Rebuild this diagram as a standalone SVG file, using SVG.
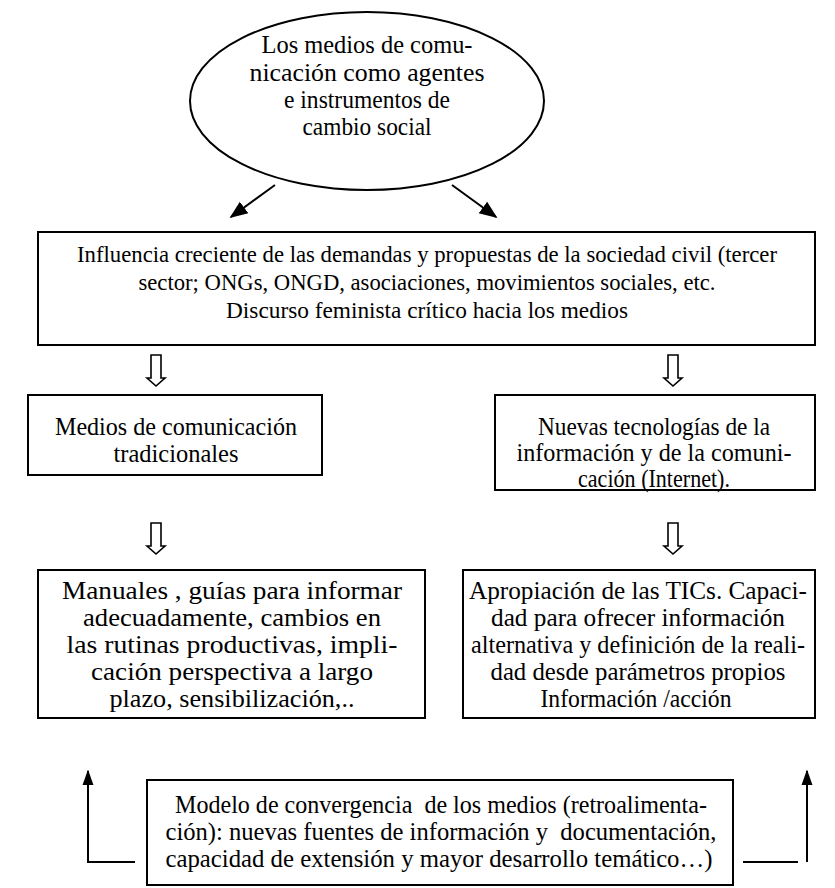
<svg xmlns="http://www.w3.org/2000/svg" width="835" height="888" viewBox="0 0 835 888">
  <style>
    .box { fill: #ffffff; stroke: #000000; stroke-width: 2; }
    .lbl { font-family: "Liberation Serif", "DejaVu Serif", serif; font-size: 25px; fill: #000000; text-anchor: middle; }
    .wide { font-size: 23px; }
    .line { fill: none; stroke: #000000; stroke-width: 2; }
    .hollow { fill: #ffffff; stroke: #000000; stroke-width: 1.6; stroke-linejoin: miter; }
  </style>
  <defs>
    <marker id="headBig" viewBox="0 0 10 10" refX="9" refY="5" markerWidth="18" markerHeight="18" orient="auto" markerUnits="userSpaceOnUse">
      <path d="M0,1 L10,5 L0,9 Z" fill="#000000"/>
    </marker>
    <marker id="headUp" viewBox="0 0 10 10" refX="9" refY="5" markerWidth="16" markerHeight="16" orient="auto" markerUnits="userSpaceOnUse">
      <path d="M0,1.5 L10,5 L0,8.5 Z" fill="#000000"/>
    </marker>
    <!-- open "down" arrow used between the levels -->
    <path id="openArrow" d="M-5,0 L5,0 L5,23 L9,23 L0,31 L-9,23 L-5,23 Z"/>
  </defs>

  <rect width="835" height="888" fill="#ffffff"/>

  <g id="connectors">
    <line class="line" x1="275" y1="185" x2="231" y2="217" marker-end="url(#headBig)"/>
    <line class="line" x1="452" y1="185" x2="496" y2="217" marker-end="url(#headBig)"/>
    <use href="#openArrow" class="hollow" x="156" y="355"/>
    <use href="#openArrow" class="hollow" x="673" y="355"/>
    <use href="#openArrow" class="hollow" x="156" y="523"/>
    <use href="#openArrow" class="hollow" x="673" y="523"/>
    <polyline class="line" points="135,862 88,862 88,771" marker-end="url(#headUp)"/>
    <line class="line" x1="743" y1="862" x2="798" y2="862"/>
    <line class="line" x1="807" y1="862" x2="807" y2="771" marker-end="url(#headUp)"/>
  </g>

  <g id="node-agentes">
    <ellipse class="box" cx="367" cy="101" rx="177" ry="89"/>
    <text class="lbl" x="367" y="53" textLength="211" lengthAdjust="spacingAndGlyphs">Los medios de comu-</text>
    <text class="lbl" x="367" y="81" textLength="235" lengthAdjust="spacingAndGlyphs">nicación como agentes</text>
    <text class="lbl" x="367" y="108" textLength="166" lengthAdjust="spacingAndGlyphs">e instrumentos de</text>
    <text class="lbl" x="367" y="135" textLength="129" lengthAdjust="spacingAndGlyphs">cambio social</text>
  </g>

  <g id="node-sociedad-civil">
    <rect class="box" x="38" y="232" width="777" height="113"/>
    <text class="lbl wide" x="427" y="262" textLength="700" lengthAdjust="spacingAndGlyphs">Influencia creciente de las demandas y propuestas de la sociedad civil (tercer</text>
    <text class="lbl wide" x="427" y="290" textLength="577" lengthAdjust="spacingAndGlyphs">sector; ONGs, ONGD, asociaciones, movimientos sociales, etc.</text>
    <text class="lbl wide" x="427" y="318" textLength="402" lengthAdjust="spacingAndGlyphs">Discurso feminista crítico hacia los medios</text>
  </g>

  <g id="node-tradicionales">
    <rect class="box" x="28" y="395" width="294" height="80"/>
    <text class="lbl" x="176" y="435" textLength="242" lengthAdjust="spacingAndGlyphs">Medios de comunicación</text>
    <text class="lbl" x="176" y="462" textLength="125" lengthAdjust="spacingAndGlyphs">tradicionales</text>
  </g>

  <g id="node-tic">
    <rect class="box" x="495" y="395" width="320" height="95"/>
    <text class="lbl" x="654" y="435" textLength="232" lengthAdjust="spacingAndGlyphs">Nuevas tecnologías de la</text>
    <text class="lbl" x="654" y="461" textLength="275" lengthAdjust="spacingAndGlyphs">información y de la comuni-</text>
    <text class="lbl" x="654" y="487" textLength="152" lengthAdjust="spacingAndGlyphs">cación (Internet).</text>
  </g>

  <g id="node-manuales">
    <rect class="box" x="38" y="570" width="387" height="148"/>
    <text class="lbl" x="232" y="599" textLength="340" lengthAdjust="spacingAndGlyphs">Manuales , guías para informar</text>
    <text class="lbl" x="232" y="626" textLength="298" lengthAdjust="spacingAndGlyphs">adecuadamente, cambios en</text>
    <text class="lbl" x="232" y="653" textLength="331" lengthAdjust="spacingAndGlyphs">las rutinas productivas, impli-</text>
    <text class="lbl" x="232" y="680" textLength="282" lengthAdjust="spacingAndGlyphs">cación perspectiva a largo</text>
    <text class="lbl" x="232" y="707" textLength="245" lengthAdjust="spacingAndGlyphs">plazo, sensibilización,..</text>
  </g>

  <g id="node-apropiacion">
    <rect class="box" x="463" y="570" width="352" height="148"/>
    <text class="lbl" x="638" y="599" textLength="338" lengthAdjust="spacingAndGlyphs">Apropiación de las TICs. Capaci-</text>
    <text class="lbl" x="638" y="626" textLength="294" lengthAdjust="spacingAndGlyphs">dad para ofrecer información</text>
    <text class="lbl" x="638" y="653" textLength="334" lengthAdjust="spacingAndGlyphs">alternativa y definición de la reali-</text>
    <text class="lbl" x="638" y="680" textLength="295" lengthAdjust="spacingAndGlyphs">dad desde parámetros propios</text>
    <text class="lbl" x="636" y="707" textLength="191" lengthAdjust="spacingAndGlyphs">Información /acción</text>
  </g>

  <g id="node-convergencia">
    <rect class="box" x="147" y="780" width="586" height="105"/>
    <text class="lbl" x="441" y="813" textLength="532" lengthAdjust="spacingAndGlyphs" xml:space="preserve">Modelo de convergencia  de los medios (retroalimenta-</text>
    <text class="lbl" x="441" y="840" textLength="551" lengthAdjust="spacingAndGlyphs" xml:space="preserve">ción): nuevas fuentes de información y  documentación,</text>
    <text class="lbl" x="439" y="867" textLength="547" lengthAdjust="spacingAndGlyphs">capacidad de extensión y mayor desarrollo temático…)</text>
  </g>
</svg>
